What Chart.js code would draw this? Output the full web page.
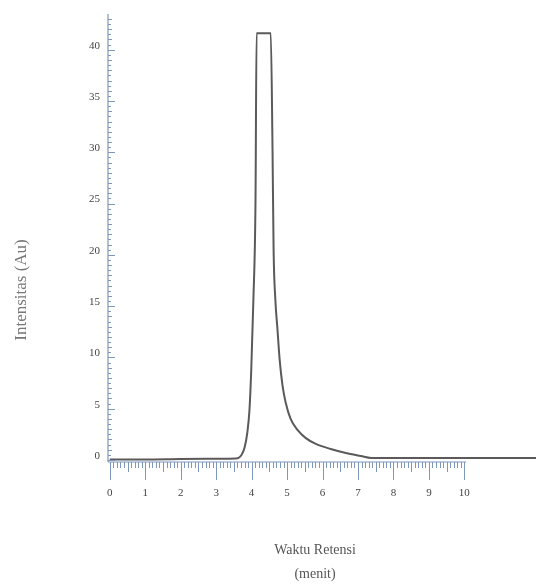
<!DOCTYPE html>
<html><head><meta charset="utf-8">
<script src="https://cdn.jsdelivr.net/npm/chart.js@4"></script>
<style>html,body{margin:0;padding:0;background:#fff}#wrap{width:536px;height:588px}</style>
</head><body><div id="wrap"><canvas id="c" width="536" height="588"></canvas></div>
<script>
const retentionTimes = [0, 1, 2, 3, 3.55, 3.63, 3.71, 3.80, 3.88, 3.94, 3.99, 4.05, 4.11, 4.14, 4.54, 4.59, 4.62, 4.67, 4.73, 4.79, 4.87, 4.96, 5.10, 5.30, 5.52, 5.81, 6.23, 6.66, 7.08, 7.37, 8, 9, 10, 11, 12.1];
const intensities    = [0.05, 0.05, 0.1, 0.12, 0.15, 0.2, 0.45, 1.2, 2.7, 4.9, 8.8, 15.6, 25.4, 41.6, 41.6, 30.2, 20.5, 15.6, 12.7, 9.8, 7.3, 5.6, 4.0, 2.9, 2.15, 1.56, 1.07, 0.68, 0.39, 0.2, 0.2, 0.2, 0.2, 0.2, 0.2];
const xTickLabels = ['0','1','2','3','4','5','6','7','8','9','10'];
const yTickLabels = ['0','5','10','15','20','25','30','35','40'];
const yTickValues = [0,5,10,15,20,25,30,35,40];

const axisColor = '#7f97ba';
const rulerPlugin = {
  id: 'ruler',
  afterDraw(chart) {
    const ctx = chart.ctx, xs = chart.scales.x, ys = chart.scales.y;
    const ca = chart.chartArea;
    const axisY = ys.getPixelForValue(-0.2);
    const axisX = xs.getPixelForValue(-0.05);
    ctx.save();
    ctx.strokeStyle = axisColor; ctx.lineWidth = 1.2;
    ctx.beginPath(); ctx.moveTo(axisX, axisY); ctx.lineTo(xs.getPixelForValue(10.05), axisY); ctx.stroke();
    ctx.lineWidth = 1;
    for (let i = 0; i <= 100; i++) {
      const px = Math.round(xs.getPixelForValue(i / 10)) + 0.5;
      const len = i % 10 === 0 ? 18 : (i % 5 === 0 ? 10 : 6);
      ctx.beginPath(); ctx.moveTo(px, axisY); ctx.lineTo(px, axisY + len); ctx.stroke();
    }
    ctx.lineWidth = 1.2;
    ctx.beginPath(); ctx.moveTo(axisX, axisY); ctx.lineTo(axisX, ca.top - 6); ctx.stroke();
    ctx.lineWidth = 1;
    for (let v = 0; v <= 43; v += 0.5) {
      const py = Math.round(ys.getPixelForValue(v)) + 0.5;
      const isMaj = Math.abs(v % 5) < 1e-6;
      const len = isMaj ? 7 : (Math.abs(v % 1) < 1e-6 ? 4 : 3);
      ctx.beginPath(); ctx.moveTo(axisX, py); ctx.lineTo(axisX + len, py); ctx.stroke();
    }
    ctx.fillStyle = '#444';
    ctx.font = '11px "Liberation Serif", serif';
    ctx.textAlign = 'center'; ctx.textBaseline = 'middle';
    xTickLabels.forEach((t, i) => {
      ctx.fillText(t, xs.getPixelForValue(i), axisY + 31);
    });
    ctx.textAlign = 'right';
    yTickLabels.forEach((t, i) => {
      ctx.fillText(t, axisX - 8, ys.getPixelForValue(yTickValues[i]) - 4);
    });
    ctx.fillStyle = '#555';
    ctx.font = '14px "Liberation Serif", serif';
    ctx.textAlign = 'center';
    ctx.fillText('Waktu Retensi', 315, 550);
    ctx.fillText('(menit)', 315, 574);
    ctx.save();
    ctx.translate(22, 290); ctx.rotate(-Math.PI / 2);
    ctx.fillStyle = '#777';
    ctx.font = '17px "Liberation Serif", serif';
    ctx.fillText('Intensitas (Au)', 0, 0);
    ctx.restore();
    ctx.restore();
  }
};

new Chart(document.getElementById('c'), {
  type: 'line',
  data: {
    datasets: [{
      data: retentionTimes.map((t, i) => ({x: t, y: intensities[i]})),
      borderColor: '#5a5a5a', borderWidth: 2, pointRadius: 0,
      cubicInterpolationMode: 'monotone', fill: false
    }]
  },
  options: {
    responsive: false, animation: false,
    layout: {padding: {left: 108, right: 0, top: 20, bottom: 126}},
    plugins: {legend: {display: false}, tooltip: {enabled: false}},
    scales: {
      x: {type: 'linear', min: -0.05, max: 12.02, display: false},
      y: {type: 'linear', min: -0.2, max: 42.9, display: false}
    }
  },
  plugins: [rulerPlugin]
});
</script></body></html>
